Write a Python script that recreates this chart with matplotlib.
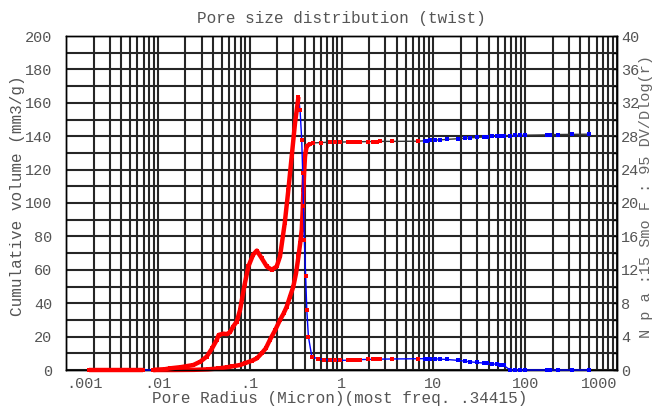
import numpy as np
import matplotlib
matplotlib.use('Agg')
from matplotlib import pyplot as plt
from matplotlib.ticker import FixedLocator, LogLocator, MultipleLocator, NullFormatter

plt.rcParams['font.family'] = ['Liberation Mono', 'DejaVu Sans Mono']

TEXT_GREY = '#555555'

# DV/Dlog(r) distribution, small pores (right axis)
dist_radius = [0.0018, 0.0025, 0.0035, 0.005, 0.0069, 0.0089, 0.012, 0.0136, 0.018, 0.0244,
               0.029, 0.034, 0.039, 0.0438, 0.046, 0.0517, 0.056, 0.061, 0.066, 0.0724,
               0.0786, 0.088, 0.0968, 0.109, 0.1195, 0.135, 0.1535, 0.174, 0.197, 0.214,
               0.241, 0.264, 0.287, 0.312, 0.340, 0.354, 0.369, 0.378, 0.385, 0.394,
               0.407, 0.419, 0.436, 0.475, 0.55, 0.65]
dist_value = [0, 0, 0, 0, 0, 0, 0.1, 0.2, 0.35, 0.6,
              1.0, 1.6, 2.6, 3.6, 4.2, 4.35, 4.3, 4.5, 5.2, 5.8,
              7.2, 10.2, 12.4, 13.8, 14.3, 13.4, 12.4, 12.0, 12.4, 13.6,
              17.6, 21.6, 25.6, 29.6, 32.7, 31.1, 27.5, 23.6, 19.6, 15.6,
              11.2, 7.2, 4.0, 1.6, 1.35, 1.25]

# cumulative intrusion volume, small pores (left axis)
cum_radius = [0.0089, 0.015, 0.025, 0.035, 0.045, 0.0562, 0.065, 0.0786, 0.09, 0.105,
              0.12, 0.135, 0.15, 0.166, 0.19, 0.214, 0.235, 0.2535, 0.275, 0.299,
              0.32, 0.34, 0.355, 0.369, 0.378, 0.385, 0.393, 0.401, 0.41, 0.419,
              0.45, 0.494, 0.6]
cum_volume = [0, 0, 0.1, 0.4, 0.9, 1.6, 2.2, 3.0, 4.2, 5.5,
              7, 10, 13, 18, 24, 30, 34, 38, 44, 50,
              58, 68, 76, 84, 96, 108, 120, 128, 131.5, 134,
              135.3, 136, 136.2]

# large pore range, shared by both curves
tail_radius = [0.751, 0.851, 0.966, 1.189, 1.294, 1.405, 1.527, 1.595, 1.964, 2.227,
               2.426, 2.63, 3.53, 6.89, 8.14, 8.49, 9.23, 10.46, 11.86, 14.03,
               18.78, 22.2, 25.2, 29.8, 35.2, 38.3, 43.4, 49.2, 53.5, 58.1,
               68.7, 77.8, 88.3, 100, 172.5, 187, 230.5, 323, 490]
tail_dist = [1.2, 1.18, 1.15, 1.18, 1.2, 1.22, 1.24, 1.25, 1.27, 1.28,
             1.29, 1.3, 1.32, 1.35, 1.36, 1.37, 1.36, 1.34, 1.3, 1.26,
             1.15, 1.05, 0.98, 0.9, 0.83, 0.79, 0.74, 0.68, 0.62, 0.56,
             0, 0, 0, 0, 0, 0, 0, 0, 0]
tail_cum = [136.4, 136.5, 136.5, 136.6, 136.6, 136.7, 136.7, 136.7, 136.8, 136.8,
            136.8, 136.9, 136.9, 137.0, 137.3, 137.4, 137.5, 137.7, 137.8, 138.1,
            138.5, 138.8, 139.0, 139.3, 139.5, 139.7, 139.9, 140.1, 140.2, 140.3,
            140.4, 140.5, 140.6, 140.6, 140.8, 140.9, 141.0, 141.1, 141.2]

decade_labels = ['.001', '.01', '.1', '1', '10', '100', '1000']
most_freq = 0.34415

r_d = np.array(dist_radius + tail_radius)
v_d = np.array(dist_value + tail_dist)
r_c = np.array(cum_radius + tail_radius)
v_c = np.array(cum_volume + tail_cum)

fig = plt.figure(figsize=(6.56, 4.08), dpi=100)
ax = fig.add_axes([66 / 656, 38 / 408, 551 / 656, 334 / 408])
ax2 = ax.twinx()

ax.set_xscale('log')
ax.set_xlim(1e-3, 1e3)
ax.set_ylim(0, 200)
ax2.set_ylim(0, 40)

ax.xaxis.set_major_locator(FixedLocator([1e-3, 1e-2, 1e-1, 1, 10, 100, 1000]))
ax.set_xticklabels(decade_labels)
ax.xaxis.set_minor_locator(LogLocator(base=10, subs=np.arange(2, 10), numticks=20))
ax.xaxis.set_minor_formatter(NullFormatter())
ax.yaxis.set_major_locator(MultipleLocator(20))
ax.yaxis.set_minor_locator(MultipleLocator(10))
ax2.yaxis.set_major_locator(MultipleLocator(4))
ax2.yaxis.set_minor_locator(MultipleLocator(2))

ax.grid(which='both', color='#262626', linewidth=1.5)
ax.set_axisbelow(True)

ax.tick_params(axis='both', which='both', length=0, labelsize=11, labelcolor=TEXT_GREY)
ax.tick_params(axis='x', pad=5)
ax.tick_params(axis='y', pad=10)
ax2.tick_params(axis='y', which='both', direction='in', length=3, width=1,
                labelsize=11, labelcolor=TEXT_GREY, pad=3)
labels = ax.get_xticklabels()
labels[0].set_ha('left')
labels[-1].set_ha('right')

for a in (ax, ax2):
    for s in a.spines.values():
        s.set_color('black')
        s.set_linewidth(1.0)

low = r_c < 7.5
high = ~low
dense_c = r_c <= 0.45

# cumulative volume curve
ax.plot(r_c, v_c, color='#333333', lw=1.0, zorder=3, clip_on=False)
ax.plot(r_c[dense_c], v_c[dense_c], color='red', lw=3.2, zorder=3, clip_on=False,
        solid_capstyle='butt')
ax.plot(r_c[low], v_c[low], 's', color='red', ms=2.8, mew=0, zorder=4, clip_on=False)
ax.plot(r_c[high], v_c[high], 's', color='blue', ms=2.8, mew=0, zorder=4, clip_on=False)

# DV/Dlog(r) curve
low_d = r_d < 7.5
high_d = ~low_d
seg1 = r_d <= 0.0069
seg2 = (r_d >= 0.0089) & (r_d <= 0.34)
ax2.plot(r_d, v_d, color='blue', lw=1.0, zorder=3, clip_on=False)
for seg in (seg1, seg2):
    ax2.plot(r_d[seg], v_d[seg], color='red', lw=3.2, zorder=3, clip_on=False,
             solid_capstyle='butt')
ax2.plot(r_d[low_d], v_d[low_d], 's', color='red', ms=3.2, mew=0, zorder=4, clip_on=False)
ax2.plot(r_d[high_d], v_d[high_d], 's', color='blue', ms=2.8, mew=0, zorder=4, clip_on=False)

fig.text(341 / 656, 1 - 18 / 408, 'Pore size distribution (twist)', ha='center', va='center',
         fontsize=11.5, color=TEXT_GREY)
fig.text(340 / 656, 1 - 398 / 408, 'Pore Radius (Micron)(most freq. %s)' % ('%.5f' % most_freq).lstrip('0'),
         ha='center', va='center', fontsize=11.5, color=TEXT_GREY)
fig.text(18 / 656, 1 - 196 / 408, 'Cumulative volume (mm3/g)', rotation=90, ha='center',
         va='center', fontsize=11.5, color=TEXT_GREY)
fig.text(646 / 656, 1 - 197 / 408, 'N p a :15 Smo F : 95 DV/Dlog(r)', rotation=90,
         ha='center', va='center', fontsize=11, color='#666666')

fig.savefig('out.png', dpi=100)
